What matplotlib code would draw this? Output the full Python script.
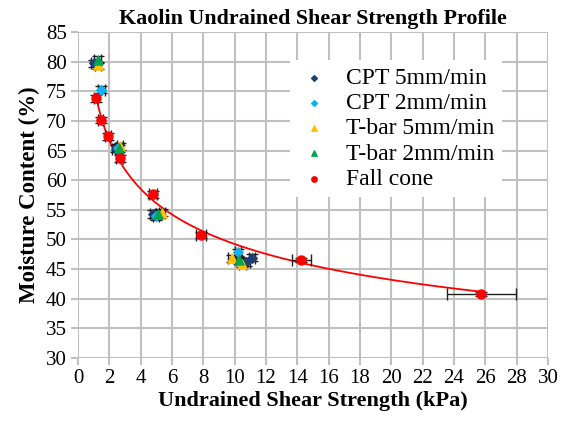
import numpy as np
import matplotlib
matplotlib.use("Agg")
import matplotlib.pyplot as plt

plt.rcParams["font.family"] = ["Liberation Serif", "DejaVu Serif"]

# Fall cone data (strength kPa, moisture %), with error bars
fc_su = [1.15, 1.45, 1.9, 2.65, 4.8, 7.85, 14.25, 25.75]
fc_w = [73.8, 70.2, 67.4, 63.7, 57.6, 50.8, 46.5, 40.8]
fc_xerr = [0.15, 0.15, 0.2, 0.25, 0.25, 0.3, 0.6, 2.2]
fc_yerr = [0.6, 0.5, 0.6, 0.6, 0.6, 0.5, 0.3, 0.3]

# CPT and T-bar data
cpt5_su = [1.0, 2.4, 4.8, 10.75, 11.1]
cpt5_w = [79.7, 65.3, 54.3, 46.2, 46.9]
cpt2_su = [1.5, 2.55, 5.0, 10.2]
cpt2_w = [75.3, 65.5, 53.9, 47.8]
tb5_su = [1.3, 2.7, 5.35, 9.8, 10.5]
tb5_w = [79.4, 65.7, 54.5, 46.8, 45.9]
tb2_su = [1.25, 2.6, 5.1, 10.3]
tb2_w = [80.3, 65.4, 54.3, 46.5]

x_ticks = list(range(0, 31, 2))
y_ticks = list(range(30, 86, 5))

fig = plt.figure(figsize=(5.71, 4.24), dpi=100)
ax = fig.add_axes([0.1366, 0.1557, 0.8231, 0.7688])

ebkw = dict(fmt="none", ecolor="#202020", elinewidth=1, capsize=4, zorder=3)
ax.errorbar(cpt5_su, cpt5_w, xerr=0.2, yerr=0.6, **ebkw)
ax.errorbar(cpt2_su, cpt2_w, xerr=0.2, yerr=0.6, **ebkw)
ax.errorbar(tb5_su, tb5_w, xerr=0.2, yerr=0.6, **ebkw)
ax.errorbar(tb2_su, tb2_w, xerr=0.2, yerr=0.6, **ebkw)
ax.errorbar(fc_su, fc_w, xerr=fc_xerr, yerr=fc_yerr, **ebkw)

ax.scatter(cpt5_su, cpt5_w, marker="D", s=24, color="#1f3f73", label="CPT 5mm/min", zorder=4)
ax.scatter(cpt2_su, cpt2_w, marker="D", s=24, color="#14b0f0", label="CPT 2mm/min", zorder=4)
ax.scatter(tb5_su, tb5_w, marker="^", s=42, color="#ffc000", label="T-bar 5mm/min", zorder=4)
ax.scatter(tb2_su, tb2_w, marker="^", s=42, color="#00a550", label="T-bar 2mm/min", zorder=4)
ax.scatter(fc_su, fc_w, marker="o", s=42, color="red", label="Fall cone", zorder=5)

# power trendline through the fall cone points
b, ln_a = np.polyfit(np.log(fc_su), np.log(fc_w), 1)
xs = np.linspace(min(fc_su), max(fc_su), 200)
ax.plot(xs, np.exp(ln_a) * xs ** b, color="red", lw=1.3, zorder=2)

ax.set_xlim(0, 30)
ax.set_ylim(30, 85)
ax.set_xticks(x_ticks)
ax.set_xticklabels([str(t) for t in x_ticks])
ax.set_yticks(y_ticks)
ax.set_yticklabels([str(t) for t in y_ticks])
for lbl in ax.get_xticklabels() + ax.get_yticklabels():
    lbl.set_fontfamily("Liberation Serif")
ax.grid(True, color="#c0c0c0", lw=1.5)
ax.set_axisbelow(True)
for s in ax.spines.values():
    s.set_visible(False)
ax.tick_params(color="#c0c0c0", width=1.5, length=5, labelsize=15, pad=3)

ax.set_title("Kaolin Undrained Shear Strength Profile", fontsize=15.8, fontweight="bold", pad=6)
ax.set_xlabel("Undrained Shear Strength (kPa)", fontsize=16, fontweight="bold", labelpad=2)
ax.set_ylabel("Moisture Content (%)", fontsize=16.5, fontweight="bold", labelpad=4)

leg = ax.legend(loc="upper left", bbox_to_anchor=(0.425, 0.95), fontsize=17, frameon=True,
                framealpha=1, edgecolor="none", fancybox=False, handletextpad=0.6,
                labelspacing=0.16, markerscale=0.6, borderpad=0.3, handlelength=1.5)

fig.savefig("out.png", dpi=100)
